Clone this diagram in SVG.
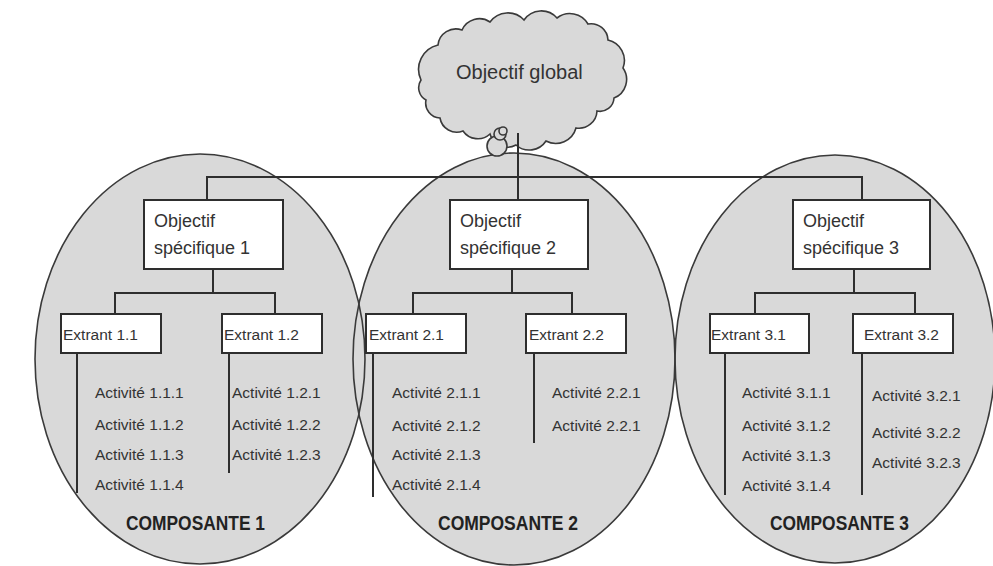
<svg xmlns="http://www.w3.org/2000/svg" width="993" height="566" viewBox="0 0 993 566">
  <style>
    .comp-fill { fill: #d9d9d9; stroke: none; }
    .comp-edge { fill: none; stroke: #3a3a3a; stroke-width: 1.6; }
    .box { fill: #ffffff; stroke: #2e2e2e; stroke-width: 2; }
    .link { fill: none; stroke: #2e2e2e; stroke-width: 2; }
    .cloud { fill: #d9d9d9; stroke: #3a3a3a; stroke-width: 1.6; }
    text { font-family: "Liberation Sans", Arial, sans-serif; fill: #333333; }
    .obj { font-size: 18px; }
    .ext { font-size: 15.5px; }
    .act { font-size: 15.5px; }
    .comp { font-size: 20px; font-weight: bold; fill: #222222; }
    .glob { font-size: 20px; }
  </style>

  <rect width="993" height="566" fill="#ffffff"/>

  <!-- component areas: fills first, outlines on top so overlaps show both edges -->
  <g id="component-areas">
    <ellipse class="comp-fill" cx="200" cy="359" rx="165" ry="205"/>
    <ellipse class="comp-fill" cx="514" cy="359" rx="161" ry="206"/>
    <ellipse class="comp-fill" cx="835" cy="359" rx="160" ry="204"/>
    <ellipse class="comp-edge" cx="200" cy="359" rx="165" ry="205"/>
    <ellipse class="comp-edge" cx="514" cy="359" rx="161" ry="206"/>
    <ellipse class="comp-edge" cx="835" cy="359" rx="160" ry="204"/>
  </g>

  <!-- global objective cloud -->
  <g id="objectif-global">
    <path class="cloud" d="M421,80 A25,25 0 0 1 438,45 A18,18 0 0 1 462,30 A19,19 0 0 1 490,22 A22,22 0 0 1 524,20 A21,21 0 0 1 557,18 A21,21 0 0 1 588,24 A17,17 0 0 1 608,40 A21,21 0 0 1 623,68 A20,20 0 0 1 614,98 A14,14 0 0 1 597,111 A18,18 0 0 1 576,128 A21,21 0 0 1 546,141 A20,20 0 0 1 516,145 A18,18 0 0 1 490,134 A18,18 0 0 1 463,131 A17,17 0 0 1 440,118 A15,15 0 0 1 426,100 A14,14 0 0 1 421,80 Z"/>
    <circle class="cloud" cx="497" cy="146" r="10"/>
    <circle class="cloud" cx="500" cy="134" r="6"/>
    <circle class="cloud" cx="503" cy="131" r="4"/>
    <text class="glob" x="456" y="79">Objectif global</text>
  </g>

  <!-- connectors -->
  <g id="connectors">
    <path class="link" d="M518,133 V200"/>
    <path class="link" d="M207,200 V177 H862 V200"/>
    <!-- component 1 -->
    <path class="link" d="M213,269 V293"/>
    <path class="link" d="M115,314 V293 H275 V314"/>
    <path class="link" d="M77,353 V493"/>
    <path class="link" d="M229,353 V473"/>
    <!-- component 2 -->
    <path class="link" d="M512,269 V293"/>
    <path class="link" d="M413,314 V293 H572 V314"/>
    <path class="link" d="M373,353 V497"/>
    <path class="link" d="M534,353 V443"/>
    <!-- component 3 -->
    <path class="link" d="M854,269 V293"/>
    <path class="link" d="M755,314 V293 H915 V314"/>
    <path class="link" d="M725,353 V495"/>
    <path class="link" d="M862,353 V495"/>
  </g>

  <!-- component 1 -->
  <g id="objectif-specifique-1">
    <rect class="box" x="144" y="200" width="139" height="69"/>
    <text class="obj" x="154" y="227">Objectif</text>
    <text class="obj" x="154" y="254">spécifique 1</text>
  </g>
  <g id="extrant-1-1">
    <rect class="box" x="61" y="314" width="100" height="39"/>
    <text class="ext" x="63" y="340">Extrant 1.1</text>
  </g>
  <g id="extrant-1-2">
    <rect class="box" x="222" y="314" width="100" height="39"/>
    <text class="ext" x="224" y="340">Extrant 1.2</text>
  </g>
  <g id="activites-1-1">
    <text class="act" x="95" y="398">Activité 1.1.1</text>
    <text class="act" x="95" y="430">Activité 1.1.2</text>
    <text class="act" x="95" y="460">Activité 1.1.3</text>
    <text class="act" x="95" y="490">Activité 1.1.4</text>
  </g>
  <g id="activites-1-2">
    <text class="act" x="232" y="398">Activité 1.2.1</text>
    <text class="act" x="232" y="430">Activité 1.2.2</text>
    <text class="act" x="232" y="460">Activité 1.2.3</text>
  </g>
  <g id="composante-1">
    <text class="comp" x="126" y="530" textLength="139" lengthAdjust="spacingAndGlyphs">COMPOSANTE 1</text>
  </g>

  <!-- component 2 -->
  <g id="objectif-specifique-2">
    <rect class="box" x="450" y="200" width="138" height="69"/>
    <text class="obj" x="460" y="227">Objectif</text>
    <text class="obj" x="460" y="254">spécifique 2</text>
  </g>
  <g id="extrant-2-1">
    <rect class="box" x="366" y="314" width="100" height="39"/>
    <text class="ext" x="369" y="340">Extrant 2.1</text>
  </g>
  <g id="extrant-2-2">
    <rect class="box" x="526" y="314" width="100" height="39"/>
    <text class="ext" x="529" y="340">Extrant 2.2</text>
  </g>
  <g id="activites-2-1">
    <text class="act" x="392" y="398">Activité 2.1.1</text>
    <text class="act" x="392" y="431">Activité 2.1.2</text>
    <text class="act" x="392" y="460">Activité 2.1.3</text>
    <text class="act" x="392" y="490">Activité 2.1.4</text>
  </g>
  <g id="activites-2-2">
    <text class="act" x="552" y="398">Activité 2.2.1</text>
    <text class="act" x="552" y="431">Activité 2.2.1</text>
  </g>
  <g id="composante-2">
    <text class="comp" x="438" y="530" textLength="140" lengthAdjust="spacingAndGlyphs">COMPOSANTE 2</text>
  </g>

  <!-- component 3 -->
  <g id="objectif-specifique-3">
    <rect class="box" x="793" y="200" width="137" height="69"/>
    <text class="obj" x="803" y="227">Objectif</text>
    <text class="obj" x="803" y="254">spécifique 3</text>
  </g>
  <g id="extrant-3-1">
    <rect class="box" x="710" y="314" width="99" height="39"/>
    <text class="ext" x="711" y="340">Extrant 3.1</text>
  </g>
  <g id="extrant-3-2">
    <rect class="box" x="853" y="314" width="100" height="39"/>
    <text class="ext" x="864" y="340">Extrant 3.2</text>
  </g>
  <g id="activites-3-1">
    <text class="act" x="742" y="398">Activité 3.1.1</text>
    <text class="act" x="742" y="431">Activité 3.1.2</text>
    <text class="act" x="742" y="461">Activité 3.1.3</text>
    <text class="act" x="742" y="491">Activité 3.1.4</text>
  </g>
  <g id="activites-3-2">
    <text class="act" x="872" y="401">Activité 3.2.1</text>
    <text class="act" x="872" y="438">Activité 3.2.2</text>
    <text class="act" x="872" y="468">Activité 3.2.3</text>
  </g>
  <g id="composante-3">
    <text class="comp" x="770" y="530" textLength="139" lengthAdjust="spacingAndGlyphs">COMPOSANTE 3</text>
  </g>
</svg>
